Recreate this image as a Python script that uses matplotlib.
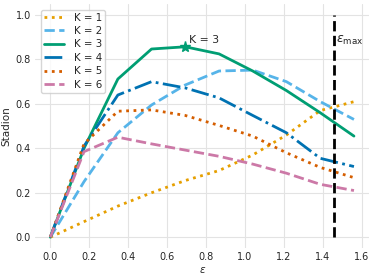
import numpy as np
import matplotlib
matplotlib.use("Agg")
import matplotlib.pyplot as plt
import seaborn as sns

eps = [0.0, 0.173, 0.347, 0.52, 0.693, 0.867, 1.04, 1.213, 1.387, 1.56]
k1 = [0.0, 0.07, 0.14, 0.20, 0.255, 0.30, 0.37, 0.46, 0.57, 0.61]
k2 = [0.0, 0.25, 0.47, 0.595, 0.685, 0.748, 0.752, 0.70, 0.61, 0.53]
k3 = [0.0, 0.40, 0.712, 0.847, 0.857, 0.825, 0.748, 0.66, 0.56, 0.455]
k4 = [0.0, 0.41, 0.64, 0.70, 0.672, 0.627, 0.548, 0.47, 0.355, 0.318]
k5 = [0.0, 0.42, 0.567, 0.573, 0.548, 0.503, 0.455, 0.38, 0.314, 0.268]
k6 = [0.0, 0.385, 0.45, 0.42, 0.392, 0.364, 0.329, 0.288, 0.238, 0.21]
eps_max = 1.455

series = [k1, k2, k3, k4, k5, k6]
labels = ["K = 1", "K = 2", "K = 3", "K = 4", "K = 5", "K = 6"]
colors = ["#E69F00", "#56B4E9", "#009E73", "#0072B2", "#D55E00", "#CC79A7"]
styles = [":", "--", "-", "-.", ":", "--"]

sns.set_style("whitegrid")
plt.rcParams['font.family'] = ['DejaVu Sans']

fig, ax = plt.subplots(figsize=(3.74, 2.79), dpi=100)
for y, lab, c, ls in zip(series, labels, colors, styles):
    ax.plot(eps, y, ls, color=c, label=lab, linewidth=2)

best = int(np.argmax(k3))
ax.plot(eps[best], k3[best], "*", color=colors[2], markersize=8)
ax.text(eps[best] + 0.022, k3[best] + 0.018, "K = 3", fontsize=7.8, va="baseline")

ax.vlines(eps_max, 0, 1.0, colors="black", linestyles="--", linewidth=2)
ax.text(eps_max + 0.015, 0.886, r"$\epsilon_{\max}$", fontsize=9, va="center")

ax.set_xlabel(r"$\epsilon$", fontsize=7.5, labelpad=2)
ax.set_ylabel("Stadion", fontsize=7.5, labelpad=3)
ax.tick_params(labelsize=7, length=0, pad=3)
ax.grid(color="#e3e3e3", linewidth=0.8)
for s in ax.spines.values():
    s.set_visible(False)
ax.legend(loc="upper left", fontsize=7.4, handlelength=2.0, frameon=True,
          borderpad=0.3, labelspacing=0.33, handletextpad=0.9,
          borderaxespad=0.55)

fig.subplots_adjust(left=0.094, right=0.987, top=0.986, bottom=0.11)
fig.savefig("out.png", dpi=100)
